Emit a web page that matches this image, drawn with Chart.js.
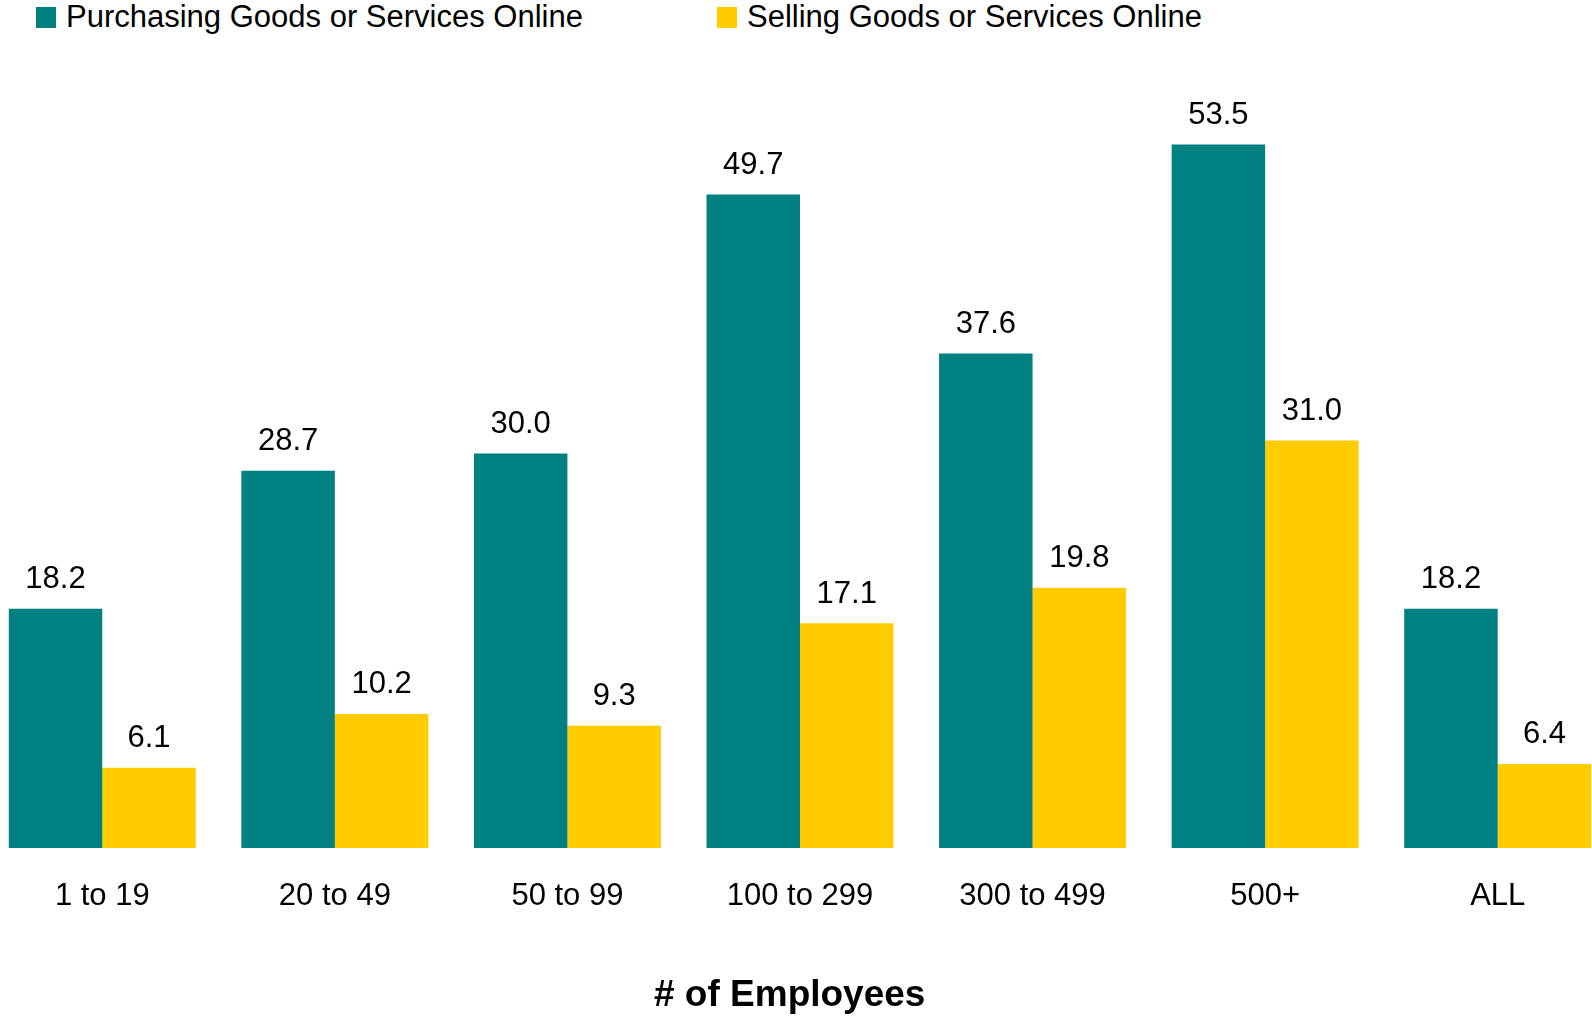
<!DOCTYPE html>
<html>
<head>
<meta charset="utf-8">
<script src="https://cdn.jsdelivr.net/npm/chart.js@4/dist/chart.umd.min.js"></script>
<style>
  html, body { margin: 0; padding: 0; background: #fff; overflow: hidden; }
  body { width: 1592px; height: 1016px; position: relative; font-family: "Liberation Sans", Arial, sans-serif; }
  #legenda { position: absolute; top: 0; left: 0; height: 36px; width: 1592px; }
  .item { position: absolute; top: 0; height: 36px; line-height: 36px; font-size: 31px; color: #000; white-space: nowrap; }
  .item .caixa { position: absolute; left: 0; top: 7px; width: 20px; height: 21px; }
  .item span.texto { position: absolute; left: 30px; top: -1px; }
  #grafico-box { position: absolute; left: -14px; top: 0; width: 1628px; height: 1016px; }
</style>
</head>
<body>
<div id="legenda"></div>
<div id="grafico-box"><canvas id="bar-chart"></canvas></div>
<script>
const faixas = ["1 to 19", "20 to 49", "50 to 99", "100 to 299", "300 to 499", "500+", "ALL"];
const compras = [18.2, 28.7, 30.0, 49.7, 37.6, 53.5, 18.2];
const vendas = [6.1, 10.2, 9.3, 17.1, 19.8, 31.0, 6.4];

const nomeCompras = "Purchasing Goods or Services Online";
const nomeVendas = "Selling Goods or Services Online";
const corCompras = "#008080";
const corVendas = "#ffcc00";

const fonte = '"Liberation Sans", Arial, sans-serif';

// valores em cima de cada barra
const rotulosBarras = {
  id: "rotulosBarras",
  afterDatasetsDraw(chart) {
    const ctx = chart.ctx;
    ctx.save();
    ctx.font = "31px " + fonte;
    ctx.fillStyle = "#000";
    ctx.textAlign = "center";
    ctx.textBaseline = "middle";
    chart.data.datasets.forEach((ds, i) => {
      chart.getDatasetMeta(i).data.forEach((bar, j) => {
        ctx.fillText(ds.data[j].toFixed(1), bar.x, bar.y - 29);
      });
    });
    ctx.restore();
  }
};

const config = {
  type: "bar",
  data: {
    labels: faixas,
    datasets: [{
      label: nomeCompras,
      data: compras,
      backgroundColor: corCompras,
      borderWidth: 0,
    },
    {
      label: nomeVendas,
      data: vendas,
      backgroundColor: corVendas,
      borderWidth: 0,
    }],
  },
  options: {
    responsive: true,
    maintainAspectRatio: false,
    animation: false,
    layout: { padding: { top: 59, left: 0, right: 0, bottom: 0 } },
    datasets: {
      bar: { categoryPercentage: 0.804, barPercentage: 1.0 }
    },
    plugins: {
      legend: { display: false },
      tooltip: { enabled: false },
    },
    scales: {
      x: {
        grid: { display: false, drawTicks: false },
        border: { display: false },
        ticks: {
          color: "#000",
          padding: 30,
          font: { family: fonte, size: 31 },
          maxRotation: 0,
        },
        title: {
          display: true,
          // espacos no fim puxam o titulo um pouco para a esquerda
          text: "# of Employees  ",
          color: "#000",
          font: { family: fonte, size: 37, weight: "bold", lineHeight: 1.1 },
          padding: { top: 30, bottom: 0 },
        },
      },
      y: {
        display: false,
        min: 0,
        max: 60,
      },
    },
  },
  plugins: [rotulosBarras],
};

// legenda em html
const legenda = document.getElementById("legenda");
[[nomeCompras, corCompras, 36], [nomeVendas, corVendas, 717]].forEach(([texto, cor, x]) => {
  const item = document.createElement("div");
  item.className = "item";
  item.style.left = x + "px";
  item.innerHTML = '<div class="caixa" style="background:' + cor + '"></div><span class="texto"></span>';
  item.querySelector(".texto").textContent = texto;
  legenda.appendChild(item);
});

const ctx = document.getElementById("bar-chart").getContext("2d");
const vendaChart = new Chart(ctx, config);
</script>
</body>
</html>
